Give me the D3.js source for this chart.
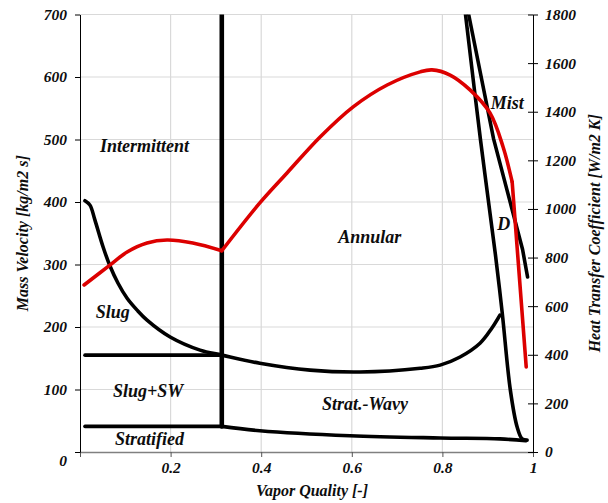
<!DOCTYPE html>
<html>
<head>
<meta charset="utf-8">
<script src="https://cdn.jsdelivr.net/npm/d3@7"></script>
<style>
  body { margin: 0; background: #fff; }
  text { font-family: "Liberation Serif", "Times New Roman", serif; font-weight: bold; font-style: italic; fill: #0d0d0d; }
</style>
</head>
<body>
<script>
// flow pattern boundaries (vapor quality, mass velocity kg/m2 s)
var slugX = [0.011, 0.022, 0.033, 0.051, 0.066, 0.084, 0.104, 0.126, 0.148, 0.199, 0.265, 0.313, 0.397, 0.508, 0.618, 0.751, 0.795, 0.839, 0.883, 0.909, 0.927];
var slugG = [402, 395, 371, 328, 298, 270, 246, 227, 211, 184, 163, 155, 142, 131, 128, 134, 139, 152, 174, 198, 219];

var swX = [0.011, 0.313];
var swG = [155, 155];

var stratX = [0.011, 0.313, 0.397, 0.596, 0.795, 0.927, 0.984];
var stratG = [41, 41, 34, 26, 22.5, 21, 18];

var transX = [0.313, 0.313];
var transG = [41, 700];

var dryX = [0.851, 0.884, 0.917, 0.932, 0.950, 0.965, 0.976, 0.987];
var dryG = [700, 500, 316, 223, 99, 40, 21, 19];

var mistX = [0.858, 0.913, 0.977, 0.988];
var mistG = [700, 501, 324, 280];

// heat transfer coefficient (W/m2 K), right axis
var htcX1 = [0.009, 0.066, 0.104, 0.148, 0.192, 0.249, 0.313];
var htcY1 = [687, 769, 823, 860, 872, 860, 828];
var htcX2 = [0.313, 0.397, 0.457, 0.530, 0.603, 0.678, 0.751, 0.777, 0.817, 0.861, 0.905, 0.934, 0.954];
var htcY2 = [828, 1025, 1148, 1296, 1420, 1510, 1564, 1572, 1551, 1490, 1395, 1255, 1111];
var htcX3 = [0.954, 0.985];
var htcY3 = [1111, 350];

var xTicks = [0, 0.2, 0.4, 0.6, 0.8, 1];
var gTicks = [0, 100, 200, 300, 400, 500, 600, 700];
var hTicks = [0, 200, 400, 600, 800, 1000, 1200, 1400, 1600, 1800];

// region names
var regionNames = ["Intermittent", "Annular", "Slug", "Slug+SW", "Stratified", "Strat.-Wavy", "Mist", "D"];
var regionX = [0.044, 0.570, 0.035, 0.073, 0.077, 0.534, 0.907, 0.921];
var regionG = [480, 334, 214, 88, 11, 67, 549, 355];

var width = 608, height = 503;
var margin = {top: 14.5, right: 75, bottom: 51, left: 80};
var w = width - margin.left - margin.right,
    h = height - margin.top - margin.bottom;

var svg = d3.select("body").append("svg")
    .attr("width", width)
    .attr("height", height)
  .append("g")
    .attr("transform", "translate(" + margin.left + "," + margin.top + ")");

var x = d3.scaleLinear().domain([0, 1]).range([0, w]);
var yL = d3.scaleLinear().domain([0, 700]).range([h, 0]);
var yR = d3.scaleLinear().domain([0, 1800]).range([h, 0]);

// grid
svg.append("g").selectAll("line")
    .data(gTicks.filter(function(d) { return d > 0; }))
    .enter().append("line")
      .attr("x1", 0).attr("x2", w)
      .attr("y1", yL).attr("y2", yL)
      .attr("stroke", "#d9d9d9").attr("stroke-width", 1.2);

svg.append("g").selectAll("line")
    .data(xTicks.filter(function(d) { return d > 0 && d < 1; }))
    .enter().append("line")
      .attr("y1", 0).attr("y2", h)
      .attr("x1", x).attr("x2", x)
      .attr("stroke", "#d9d9d9").attr("stroke-width", 1.2);

// axes
var gx = svg.append("g")
    .attr("transform", "translate(0," + h + ")")
    .call(d3.axisBottom(x).tickValues(xTicks).tickSize(5).tickSizeOuter(0).tickPadding(5)
      .tickFormat(function(d) { return d === 0 ? "" : (d === 1 ? "1" : d3.format(".1f")(d)); }));
gx.select(".domain").attr("stroke", "#808080").attr("stroke-width", 1.3);
gx.selectAll(".tick line").attr("stroke", "#555");

var gl = svg.append("g")
    .call(d3.axisLeft(yL).tickValues(gTicks).tickSize(5).tickSizeOuter(0).tickPadding(8));
gl.selectAll(".tick text").filter(function(d) { return d === 0; }).attr("dy", "0.9em");

var gr = svg.append("g")
    .attr("transform", "translate(" + w + ",0)")
    .call(d3.axisRight(yR).tickValues(hTicks).tickSize(5).tickSizeOuter(0).tickPadding(7)
      .tickFormat(d3.format("d")));
gr.selectAll(".tick line").attr("x1", -5).attr("x2", 5);

svg.selectAll(".tick text")
    .style("font-family", "'Liberation Serif', 'Times New Roman', serif")
    .style("font-size", "15.5px")
    .style("font-weight", "bold")
    .style("font-style", "italic")
    .attr("fill", "#0d0d0d");

// axis titles
svg.append("text")
    .attr("transform", "translate(" + (28 - margin.left) + "," + (h / 2) + ")rotate(-90)")
    .attr("text-anchor", "middle")
    .style("font-size", "16px")
    .text("Mass Velocity [kg/m2 s]");

svg.append("text")
    .attr("transform", "translate(" + (600 - margin.left) + "," + (h / 2) + ")rotate(-90)")
    .attr("text-anchor", "middle")
    .style("font-size", "16px")
    .text("Heat Transfer Coefficient [W/m2 K]");

svg.append("text")
    .attr("x", 312 - margin.left)
    .attr("y", 496 - margin.top)
    .attr("text-anchor", "middle")
    .style("font-size", "16px")
    .text("Vapor Quality [-]");

// lines
function pts(xs, ys) { return xs.map(function(d, i) { return [d, ys[i]]; }); }

var lineG = d3.line().x(function(d) { return x(d[0]); }).y(function(d) { return yL(d[1]); });
var lineH = d3.line().x(function(d) { return x(d[0]); }).y(function(d) { return yR(d[1]); });

svg.append("clipPath").attr("id", "plot")
  .append("rect").attr("x", 0).attr("y", 0).attr("width", w).attr("height", h);

var plot = svg.append("g").attr("clip-path", "url(#plot)");
var smooth = d3.curveCatmullRom.alpha(0.5);

function drawBlack(data, curve, sw) {
  plot.append("path")
      .datum(data)
      .attr("fill", "none")
      .attr("stroke", "#000")
      .attr("stroke-width", sw || 3.6)
      .attr("stroke-linecap", "round")
      .attr("stroke-linejoin", "round")
      .attr("d", lineG.curve(curve));
}

drawBlack(pts(slugX, slugG), smooth);
drawBlack(pts(swX, swG), d3.curveLinear);
drawBlack(pts(stratX, stratG).slice(0, 2), d3.curveLinear);
drawBlack(pts(stratX, stratG).slice(1), smooth);
drawBlack(pts(dryX, dryG), smooth);
drawBlack(pts(mistX, mistG), d3.curveLinear);
drawBlack(pts(transX, transG), d3.curveLinear, 4.6);

[[htcX1, htcY1, smooth], [htcX2, htcY2, smooth], [htcX3, htcY3, d3.curveLinear]].forEach(function(s) {
  plot.append("path")
      .datum(pts(s[0], s[1]))
      .attr("fill", "none")
      .attr("stroke", "#dc0000")
      .attr("stroke-width", 3.6)
      .attr("stroke-linecap", "round")
      .attr("stroke-linejoin", "round")
      .attr("d", lineH.curve(s[2]));
});

// region labels
svg.append("g").selectAll("text")
    .data(regionNames)
    .enter().append("text")
      .attr("x", function(d, i) { return x(regionX[i]); })
      .attr("y", function(d, i) { return yL(regionG[i]); })
      .style("font-size", "18px")
      .text(function(d) { return d; });
</script>
</body>
</html>
